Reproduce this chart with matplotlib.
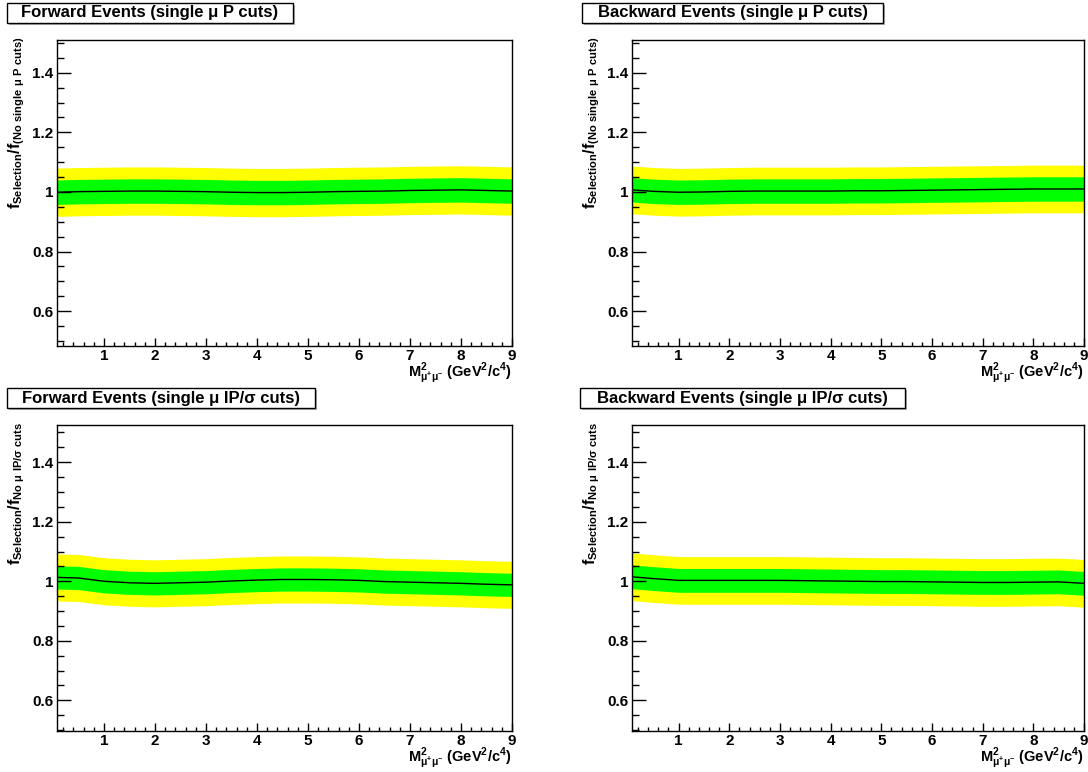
import matplotlib
matplotlib.use('Agg')
import matplotlib.pyplot as plt
from matplotlib.patches import Rectangle
from matplotlib.ticker import MultipleLocator, FuncFormatter

plt.rcParams['font.family'] = ['Liberation Sans', 'DejaVu Sans']
plt.rcParams['font.weight'] = 'bold'
plt.rcParams['mathtext.fontset'] = 'custom'
plt.rcParams['mathtext.rm'] = 'Liberation Sans:bold'
plt.rcParams['mathtext.it'] = 'Liberation Sans:bold:italic'
plt.rcParams['mathtext.bf'] = 'Liberation Sans:bold'
plt.rcParams['mathtext.sf'] = 'Liberation Sans:bold'

# ---------------- data ----------------
mass2 = [0.08, 0.5, 1.0, 1.5, 2.0, 2.5, 3.0, 3.5, 4.0, 4.5, 5.0,
         5.5, 6.0, 6.5, 7.0, 7.5, 8.0, 8.5, 9.0]

fwd_p_ratio = [0.999, 1.001, 1.002, 1.003, 1.003, 1.002, 1.001, 0.999, 0.998, 0.998,
               0.999, 1.001, 1.002, 1.003, 1.005, 1.006, 1.007, 1.005, 1.003]
fwd_p_err1 = [0.041] * 19
fwd_p_err2 = [0.081] * 19

bwd_p_ratio = [1.007, 1.002, 0.999, 1.000, 1.002, 1.003, 1.003, 1.003, 1.003, 1.004,
               1.004, 1.005, 1.006, 1.007, 1.008, 1.009, 1.010, 1.010, 1.010]
bwd_p_err1 = [0.041] * 19
bwd_p_err2 = [0.080] * 19

fwd_ip_ratio = [1.013, 1.011, 1.000, 0.995, 0.993, 0.995, 0.997, 1.001, 1.004, 1.006,
                1.006, 1.005, 1.003, 0.999, 0.997, 0.995, 0.993, 0.990, 0.988]
fwd_ip_err1 = [0.039] * 19
fwd_ip_err2 = [0.079] * 19

bwd_ip_ratio = [1.015, 1.009, 1.003, 1.003, 1.003, 1.003, 1.003, 1.002, 1.001, 1.000,
                0.999, 0.999, 0.998, 0.997, 0.996, 0.996, 0.997, 0.998, 0.993]
bwd_ip_err1 = [0.040] * 19
bwd_ip_err2 = [0.080] * 19

titles = ["Forward Events (single μ P cuts)",
          "Backward Events (single μ P cuts)",
          "Forward Events (single μ IP/σ cuts)",
          "Backward Events (single μ IP/σ cuts)"]
ylabel_p = r"$\mathrm{f_{Selection}/f_{(No\ single\ μ\ P\ cuts)}}$"
ylabel_ip = r"$\mathrm{f_{Selection}/f_{No\ μ\ IP/σ\ cuts}}$"
xlabel = r"$\mathrm{M^{2}_{μ^{+}μ^{-}}\ (GeV^{2}/c^{4})}$"
yticks = [0.6, 0.8, 1.0, 1.2, 1.4]
xticks = [1, 2, 3, 4, 5, 6, 7, 8, 9]

# ---------------- layout ----------------
W, H = 1088, 772
fig = plt.figure(figsize=(W / 100, H / 100), dpi=100)


def frect(l, t, r, b):
    return [l / W, 1 - b / H, (r - l) / W, (b - t) / H]


panels = [
    dict(box=(57, 40, 512, 346), ylim=(0.483, 1.51), data=(fwd_p_ratio, fwd_p_err1, fwd_p_err2),
         title=titles[0], tbox=(7, 3, 293, 23), ylab=ylabel_p),
    dict(box=(632, 40, 1084, 346), ylim=(0.483, 1.51), data=(bwd_p_ratio, bwd_p_err1, bwd_p_err2),
         title=titles[1], tbox=(582, 3, 883, 23), ylab=ylabel_p),
    dict(box=(57, 425, 512, 731), ylim=(0.497, 1.525), data=(fwd_ip_ratio, fwd_ip_err1, fwd_ip_err2),
         title=titles[2], tbox=(7, 388, 315, 408), ylab=ylabel_ip),
    dict(box=(632, 425, 1084, 731), ylim=(0.497, 1.525), data=(bwd_ip_ratio, bwd_ip_err1, bwd_ip_err2),
         title=titles[3], tbox=(580, 388, 905, 408), ylab=ylabel_ip),
]

for p in panels:
    l, t, r, b = p['box']
    ax = fig.add_axes(frect(l, t, r, b))
    val, e1, e2 = p['data']
    lo2 = [v - e for v, e in zip(val, e2)]
    hi2 = [v + e for v, e in zip(val, e2)]
    lo1 = [v - e for v, e in zip(val, e1)]
    hi1 = [v + e for v, e in zip(val, e1)]
    ax.fill_between(mass2, lo2, hi2, color='#ffff00', lw=0)
    ax.fill_between(mass2, lo1, hi1, color='#00ff00', lw=0)
    ax.plot(mass2, val, color='black', lw=1.0)
    ax.set_xlim(mass2[0], mass2[-1])
    ax.set_ylim(*p['ylim'])
    ax.set_xticks(xticks)
    ax.set_yticks(yticks)
    ax.xaxis.set_minor_locator(MultipleLocator(0.2))
    ax.yaxis.set_minor_locator(MultipleLocator(0.05))
    ax.yaxis.set_major_formatter(FuncFormatter(lambda v, pos: '%g' % round(v, 2)))
    ax.tick_params(axis='both', which='both', direction='in', top=False, right=False,
                   width=1.0, color='black')
    ax.tick_params(axis='y', which='major', length=10, pad=2.5, labelsize=11)
    ax.tick_params(axis='y', which='minor', length=5)
    ax.tick_params(axis='x', which='major', length=6, pad=2.0, labelsize=11)
    ax.tick_params(axis='x', which='minor', length=3)
    for lab in ax.get_xticklabels() + ax.get_yticklabels():
        lab.set_fontweight('bold')
    for s in ax.spines.values():
        s.set_linewidth(1.0)
        s.set_color('black')

    # axis titles
    fig.text((l - 40) / W, 1 - (t - 3) / H, p['ylab'], rotation=90, ha='center', va='top',
             fontsize=11.5)
    fig.text(r / W, 1 - (b + 15) / H, xlabel, ha='right', va='top', fontsize=10.5)

    # title box
    x0, y0, x1, y1 = p['tbox']
    fig.add_artist(Rectangle(((x0 + 2) / W, 1 - (y1 + 2) / H), (x1 - x0) / W, (y1 - y0) / H,
                             transform=fig.transFigure, facecolor='#b0b0b0',
                             edgecolor='none', zorder=1))
    fig.add_artist(Rectangle((x0 / W, 1 - y1 / H), (x1 - x0) / W, (y1 - y0) / H,
                             transform=fig.transFigure, facecolor='white',
                             edgecolor='black', lw=1.0, zorder=2))
    fig.text((x0 + x1) / 2 / W, 1 - (y0 + y1) / 2 / H, p['title'], ha='center', va='center',
             fontsize=12, fontweight='bold', zorder=3)

fig.savefig('out.png', dpi=100, facecolor='white')
